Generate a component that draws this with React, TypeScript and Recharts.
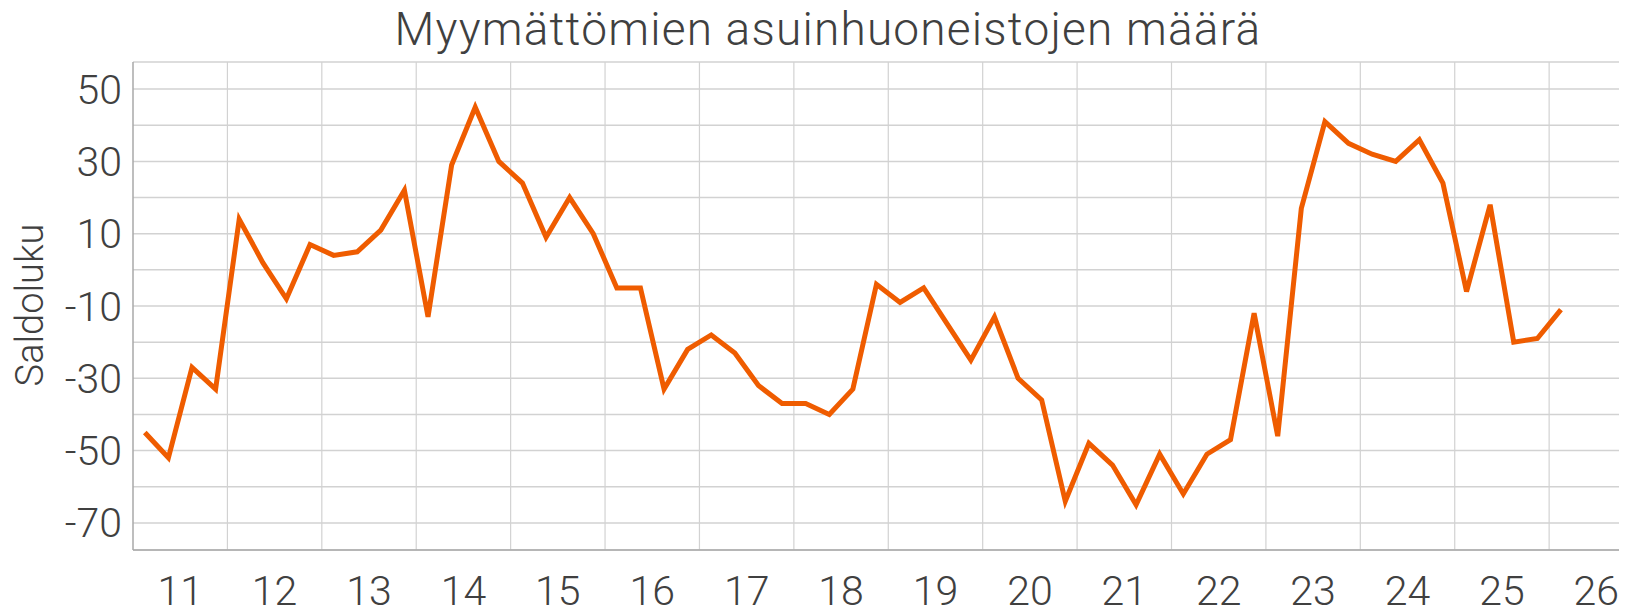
import React from 'react';
import { LineChart, Line, XAxis, YAxis, CartesianGrid, ReferenceLine } from 'recharts';

const TITLE = 'Myymättömien asuinhuoneistojen määrä';
const Y_LABEL = 'Saldoluku';
const START_YEAR = 2011;

// Quarterly balance figures, 2011 Q1 .. 2026 Q1
const saldoluku = [
  -45, -52, -27, -33,
  14, 2, -8, 7,
  4, 5, 11, 22,
  -13, 29, 45, 30,
  24, 9, 20, 10,
  -5, -5, -33, -22,
  -18, -23, -32, -37,
  -37, -40, -33, -4,
  -9, -5, -15, -25,
  -13, -30, -36, -64,
  -48, -54, -65, -51,
  -62, -51, -47, -12,
  -46, 17, 41, 35,
  32, 30, 36, 24,
  -6, 18, -20, -19,
  -11,
];

const yearTicks = [2011, 2012, 2013, 2014, 2015, 2016, 2017, 2018, 2019, 2020, 2021, 2022, 2023, 2024, 2025, 2026];
const yearBoundaries = [2012, 2013, 2014, 2015, 2016, 2017, 2018, 2019, 2020, 2021, 2022, 2023, 2024, 2025, 2026];
const yTicks = [-70, -60, -50, -40, -30, -20, -10, 0, 10, 20, 30, 40, 50];
const yLabelled = [-70, -50, -30, -10, 10, 30, 50];

const data = saldoluku.map((v, i) => ({
  period: `${START_YEAR + Math.floor(i / 4)}Q${(i % 4) + 1}`,
  x: START_YEAR + (i + 0.5) / 4,
  value: v,
}));

const FONT = 'Roboto, "Noto Sans", sans-serif';
const TEXT = '#404040';
const GRID = '#d2d2d2';
const AXIS = '#a9a9a9';
const ORANGE = '#EF5C00';

export default function App() {
  return (
    <div style={{ position: 'absolute', left: 0, top: 0, width: 1627, height: 611, background: '#fff' }}>
      <LineChart
        width={1627}
        height={611}
        data={data}
        margin={{ top: 62, right: 8, bottom: 0, left: 0 }}
      >
        <CartesianGrid vertical={false} stroke={GRID} strokeWidth={1.5} />
        {yearBoundaries.map((b) => (
          <ReferenceLine key={b} x={b} stroke={GRID} strokeWidth={1.2} ifOverflow="visible" />
        ))}
        <XAxis
          dataKey="x"
          type="number"
          domain={[2011, 2026.74]}
          allowDataOverflow
          ticks={yearTicks.map((y) => y + 0.5)}
          tickFormatter={(v: number) => String(Math.floor(v) % 100)}
          interval={0}
          height={61}
          tickLine={false}
          tickSize={6}
          tickMargin={20}
          axisLine={{ stroke: AXIS, strokeWidth: 1.5 }}
          tick={{ fill: TEXT, fontSize: 41, fontFamily: FONT, fontWeight: 300 }}
        />
        <YAxis
          type="number"
          domain={[-77.5, 57.5]}
          allowDataOverflow
          ticks={yTicks}
          interval={0}
          tickFormatter={(v: number) => (yLabelled.includes(v) ? String(v) : '')}
          width={133}
          tickLine={false}
          tickSize={6}
          tickMargin={5}
          axisLine={{ stroke: AXIS, strokeWidth: 1.5 }}
          tick={{ fill: TEXT, fontSize: 41, fontFamily: FONT, fontWeight: 300 }}
        />
        <Line
          type="linear"
          dataKey="value"
          stroke={ORANGE}
          strokeWidth={5}
          dot={false}
          activeDot={false}
          isAnimationActive={false}
        />
      </LineChart>
      <svg
        width={1627}
        height={611}
        style={{ position: 'absolute', left: 0, top: 0, pointerEvents: 'none' }}
      >
        <text
          x={828}
          y={45}
          textAnchor="middle"
          fill={TEXT}
          fontSize={46}
          letterSpacing={1.2}
          fontFamily={FONT}
          fontWeight={300}
        >
          {TITLE}
        </text>
        <text
          x={30}
          y={305}
          transform="rotate(-90 30 305)"
          textAnchor="middle"
          dominantBaseline="central"
          fill={TEXT}
          fontSize={38}
          fontFamily={FONT}
          fontWeight={300}
        >
          {Y_LABEL}
        </text>
      </svg>
    </div>
  );
}
